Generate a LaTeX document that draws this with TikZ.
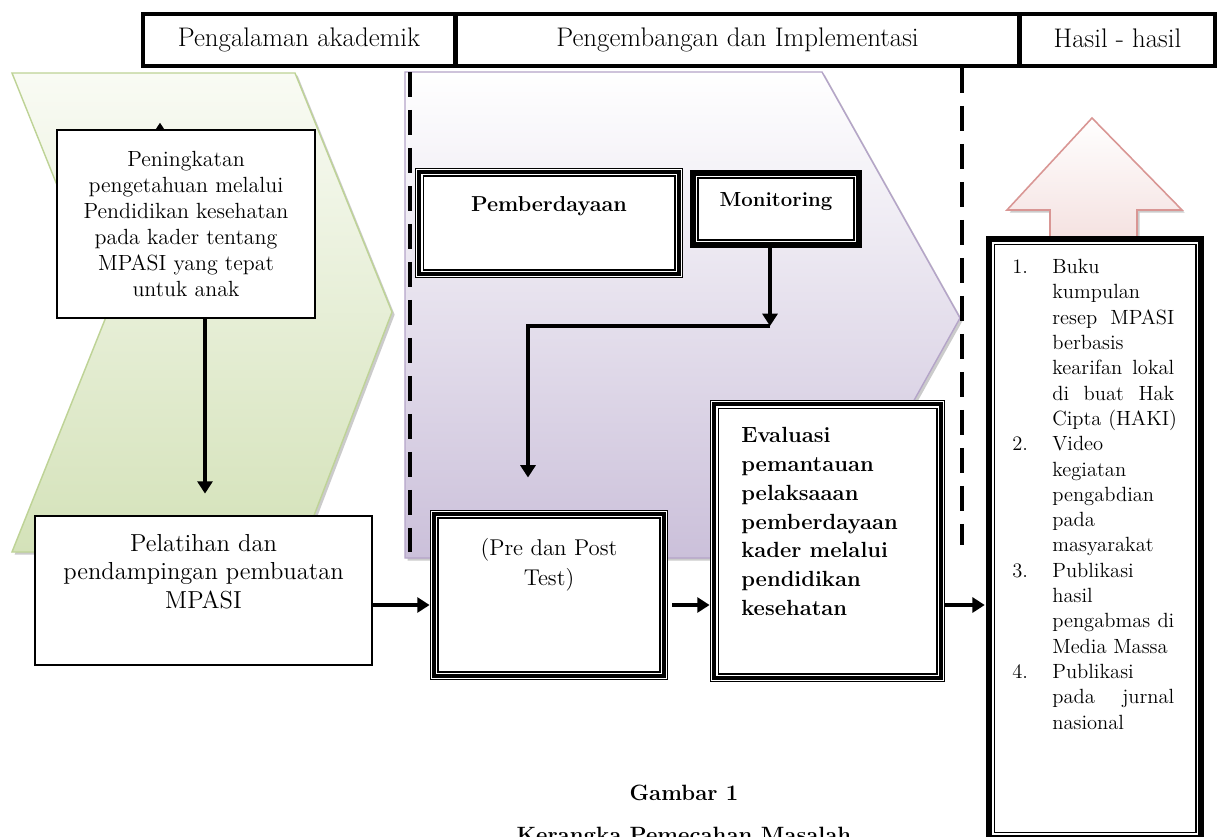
\documentclass[tikz,border=0pt]{standalone}
\usepackage{amsmath}
\usepackage{tikz}
\usetikzlibrary{arrows.meta,shadows,backgrounds}

\definecolor{green_top}{RGB}{249,251,244}
\definecolor{green_bot}{RGB}{212,226,185}
\definecolor{green_line}{RGB}{190,211,150}
\definecolor{purple_bot}{RGB}{203,192,218}
\definecolor{purple_line}{RGB}{180,164,200}
\definecolor{pink_line}{RGB}{217,150,148}
\definecolor{pink_bot}{RGB}{244,224,223}

\newcommand{\hasilnum}[2]{\makebox[0.8cm][l]{#1}#2}
\newcommand{\hasiljust}[1]{\makebox[2.44cm][s]{#1}}

\begin{document}
\begin{tikzpicture}[x=0.02cm, y=-0.02cm,
		head_style/.style={draw=black, line width=2.8pt, minimum height=1.04cm, inner sep=0pt, font=\fontsize{15.3}{18}\selectfont},
		box_style/.style={draw=black, line width=1.6pt, fill=white, inner sep=0pt},
		tri_style/.style={draw=black, line width=0.6pt, fill=white, inner sep=0pt,
			preaction={draw=black, line width=9pt},
			preaction={draw=white, line width=8pt},
			preaction={draw=black, line width=6.8pt},
			preaction={draw=white, line width=2pt}},
		thick_style/.style={draw=black, line width=0.6pt, fill=white, inner sep=0pt,
			preaction={draw=black, line width=9pt},
			preaction={draw=white, line width=2.4pt}},
		arrow_style/.style={draw=black, line width=2.6pt, -{Triangle[length=7pt,width=8.5pt]}},
		dash_style/.style={draw=black, line width=2.8pt, dash pattern=on 0.5cm off 0.26cm},
		shadow_style/.style={drop shadow={shadow xshift=1.5pt, shadow yshift=-1.5pt, fill=black!45, opacity=0.45}}]

		\useasboundingbox (0,0) rectangle (1218,836);

		% header
		\node[head_style, minimum width=6.24cm] (hdr_a) at (299,40) {\raisebox{2pt}{Pengalaman akademik}};
		\node[head_style, minimum width=11.3cm] (hdr_b) at (737.5,40) {\raisebox{2pt}{Pengembangan dan Implementasi}};
		\node[head_style, minimum width=3.9cm] (hdr_c) at (1117.5,40) {\raisebox{2pt}{Hasil - hasil}};

		% boxes
		\node[box_style, minimum width=5.16cm, minimum height=3.76cm, align=center,
			font=\fontsize{12.5}{14.7}\selectfont] (pen) at (186,224)
			{Peningkatan\\pengetahuan melalui\\Pendidikan kesehatan\\pada kader tentang\\MPASI yang tepat\\untuk anak};
		\node[box_style, minimum width=6.74cm, minimum height=2.98cm] (pel) at (203.5,590.5) {};
		\node[tri_style, minimum width=4.44cm, minimum height=3.08cm] (pre) at (549,595) {};
		\node[tri_style, minimum width=4.38cm, minimum height=5.32cm] (eva) at (827.5,541) {};
		\node[tri_style, minimum width=5.04cm, minimum height=1.88cm] (pem) at (549,223) {};
		\node[thick_style, minimum width=3.12cm, minimum height=1.24cm] (mon) at (776,209) {};

		% texts
		\node[anchor=north, inner sep=0pt, align=center, font=\fontsize{14}{16.2}\selectfont] (pel_text) at (203.5,534)
			{Pelatihan dan\\pendampingan pembuatan\\MPASI};
		\node[anchor=north, inner sep=0pt, align=center, font=\fontsize{13}{17}\selectfont] (pre_text) at (549,538)
			{(Pre dan Post\\Test)};
		\node[anchor=north west, inner sep=0pt, align=left, font=\bfseries\fontsize{12.5}{16.4}\selectfont] (eva_text) at (741,427)
			{Evaluasi\\pemantauan\\pelaksaaan\\pemberdayaan\\kader melalui\\pendidikan\\kesehatan};
		\node[font=\bfseries\fontsize{12.3}{15}\selectfont] (pem_text) at (549,206) {Pemberdayaan};
		\node[font=\bfseries\fontsize{11.6}{14}\selectfont] (mon_text) at (776,202) {Monitoring};
		\node[font=\bfseries\fontsize{12.6}{15}\selectfont] (fig_num) at (684,793) {Gambar 1};
		\node[anchor=north, inner sep=0pt, font=\bfseries\fontsize{12.6}{15}\selectfont] (fig_title) at (684,827) {Kerangka Pemecahan Masalah};

		% background shapes
		\begin{pgfonlayer}{background}
			\fill[white] (0,0) rectangle (1218,836);
			\path[shadow_style, draw=green_line, line width=0.8pt, top color=green_top, bottom color=green_bot]
				(12,73) -- (295,73) -- (392,312) -- (300,552) -- (12,552) -- (108,312) -- cycle;
			\path[shadow_style, draw=purple_line, line width=0.8pt, top color=white, bottom color=purple_bot]
				(405,72) -- (822,72) -- (960,318) -- (826,558) -- (405,558) -- cycle;
			\path[shadow_style, draw=pink_line, line width=0.9pt, top color=white, bottom color=pink_bot]
				(1092,118) -- (1182,210) -- (1137,210) -- (1137,245) -- (1050,245) -- (1050,210) -- (1007,210) -- cycle;
			\draw[dash_style] (410,72) -- (410,552);
			\draw[dash_style] (962,68) -- (962,545);
			\draw[arrow_style] ([xshift=-0.52cm]pen.center) -- ([xshift=-0.52cm,yshift=0.12cm]pen.north);
		\end{pgfonlayer}

		% output box
		\node[thick_style, minimum width=4.04cm, minimum height=11.78cm] (out) at (1095,538.5) {};
		\node[anchor=north west, inner sep=0pt, align=left, font=\fontsize{11.7}{14.4}\selectfont] (out_text) at (1012,259)
			{\hasilnum{1.}{Buku}\\
			\hasilnum{}{kumpulan}\\
			\hasilnum{}{\hasiljust{resep MPASI}}\\
			\hasilnum{}{berbasis}\\
			\hasilnum{}{\hasiljust{kearifan lokal}}\\
			\hasilnum{}{\hasiljust{di buat Hak}}\\
			\hasilnum{}{Cipta (HAKI)}\\
			\hasilnum{2.}{Video}\\
			\hasilnum{}{kegiatan}\\
			\hasilnum{}{pengabdian}\\
			\hasilnum{}{pada}\\
			\hasilnum{}{masyarakat}\\
			\hasilnum{3.}{Publikasi}\\
			\hasilnum{}{hasil}\\
			\hasilnum{}{\hasiljust{pengabmas di}}\\
			\hasilnum{}{Media Massa}\\
			\hasilnum{4.}{Publikasi}\\
			\hasilnum{}{\hasiljust{pada jurnal}}\\
			\hasilnum{}{nasional}};

		% connectors
		\coordinate (row) at (0,605);
		\coordinate (bend) at (770,326);
		\draw[arrow_style, shorten >=0.42cm] ([xshift=0.38cm]pen.south) -- ([xshift=0.38cm]pen.south |- pel.north);
		\draw[arrow_style, shorten >=4.5pt] (pel.east |- row) -- (pre.west |- row);
		\draw[arrow_style, shorten <=6.8pt, shorten >=4.5pt] (pre.east |- row) -- (eva.west |- row);
		\draw[arrow_style, shorten <=4.5pt, shorten >=5pt] (eva.east |- row) -- (out.west |- row);
		\draw[arrow_style, shorten <=4.5pt] (mon.south -| bend) -- (bend);
		\draw[arrow_style, shorten >=0.8cm] (bend) -| ([xshift=-0.42cm]pre.north);
\end{tikzpicture}
\end{document}
